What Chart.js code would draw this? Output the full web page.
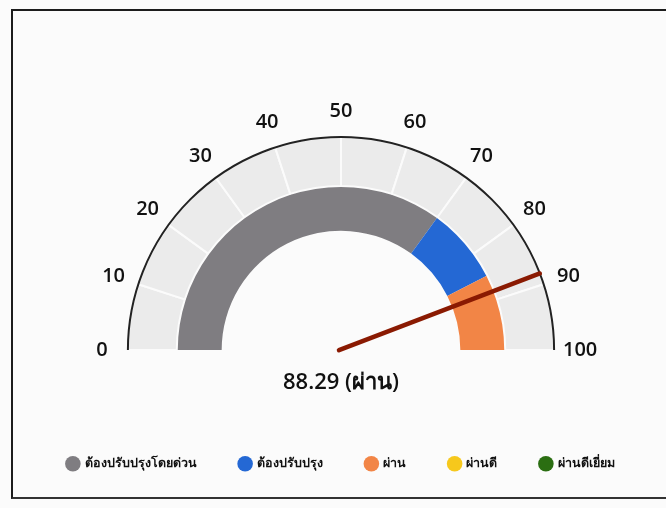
<!DOCTYPE html>
<html>
<head>
<meta charset="utf-8">
<script src="https://cdn.jsdelivr.net/npm/chart.js@4.4.1/dist/chart.umd.min.js"></script>
<style>
  html, body { margin: 0; padding: 0; background: #fbfbfb; }
  #wrap { position: relative; width: 666px; height: 508px; overflow: hidden; }
  #frame { position: absolute; left: 11px; top: 9px; width: 700px; height: 486px;
           border-left: 2px solid #1c1c1c; border-top: 2px solid #1c1c1c; border-bottom: 2px solid #333; }
  #gauge { position: absolute; left: 0; top: 0; }
</style>
</head>
<body>
<div id="wrap">
  <div id="frame"></div>
  <canvas id="gauge" width="666" height="508"></canvas>
</div>
<script>
// ตัวเลขรอบหน้าปัด
var tickLabels = [0, 10, 20, 30, 40, 50, 60, 70, 80, 90, 100];
// วงนอก (ช่องละ 10)
var outerSegments = [10, 10, 10, 10, 10, 10, 10, 10, 10, 10];
// ช่วงเกณฑ์
var bandLabels = ["ต้องปรับปรุงโดยด่วน", "ต้องปรับปรุง", "ผ่าน", "ผ่านดี", "ผ่านดีเยี่ยม"];
var bandValues = [70, 15, 15, 0, 0];
var bandColors = ["#7f7d81", "#2468d4", "#f28546", "#f6c81c", "#2b6e12"];
// ค่าเข็ม
var needleValue = 88.29;
var statusText = "ผ่าน";

var scaleMin = tickLabels[0];
var scaleMax = tickLabels[tickLabels.length - 1];

function valueToAngle(v) {
    return Math.PI + (v - scaleMin) / (scaleMax - scaleMin) * Math.PI;
}

// วาดเส้นขอบ ตัวเลข และเข็ม
var gaugeDecor = {
    id: 'gaugeDecor',
    afterDatasetsDraw: function (chart) {
        var arc = chart.getDatasetMeta(0).data[0];
        var cx = arc.x, cy = arc.y, r = arc.outerRadius;
        var ctx = chart.ctx;
        ctx.save();

        // เส้นขอบนอกสีดำ
        ctx.beginPath();
        ctx.arc(cx, cy, r, Math.PI, 2 * Math.PI);
        ctx.lineWidth = 2;
        ctx.strokeStyle = '#222';
        ctx.stroke();

        // ตัวเลข
        ctx.fillStyle = '#111';
        ctx.font = '600 20px "Open Sans", sans-serif';
        ctx.textAlign = 'center';
        ctx.textBaseline = 'middle';
        tickLabels.forEach(function (t) {
            var a = valueToAngle(t);
            ctx.fillText(String(t), cx + (r + 26) * Math.cos(a), cy + (r + 26) * Math.sin(a));
        });

        // เข็ม
        var na = valueToAngle(needleValue);
        ctx.beginPath();
        ctx.moveTo(cx - 2, cy);
        ctx.lineTo(cx + r * Math.cos(na), cy + r * Math.sin(na));
        ctx.lineWidth = 4.5;
        ctx.lineCap = 'round';
        ctx.strokeStyle = '#8a1a02';
        ctx.stroke();
        ctx.restore();
    }
};

var ctx = document.getElementById('gauge');
var gaugeChart = new Chart(ctx, {
    type: 'doughnut',
    data: {
        labels: bandLabels,
        datasets: [
            {
                data: outerSegments,
                backgroundColor: '#ebebeb',
                borderColor: '#fbfbfb',
                borderWidth: 2,
                weight: 49
            },
            {
                data: bandValues,
                backgroundColor: bandColors,
                borderWidth: 0,
                weight: 45
            }
        ]
    },
    options: {
        responsive: false,
        animation: false,
        rotation: -90,
        circumference: 180,
        cutout: '56%',
        layout: {
            padding: { top: 136, left: 16, right: 0, bottom: 28 }
        },
        plugins: {
            tooltip: { enabled: false },
            legend: {
                position: 'bottom',
                title: {
                    display: true,
                    text: needleValue.toFixed(2) + ' (' + statusText + ')',
                    color: '#111',
                    font: { family: '"Open Sans", "Noto Sans", sans-serif', size: 22, weight: '600' },
                    padding: { top: 21, bottom: 16 }
                },
                labels: {
                    usePointStyle: true,
                    pointStyle: 'circle',
                    boxWidth: 11,
                    boxHeight: 11,
                    padding: 43,
                    color: '#222',
                    font: { family: '"Noto Sans", sans-serif', size: 12.5, weight: 'bold' },
                    generateLabels: function () {
                        return bandLabels.map(function (l, i) {
                            return {
                                text: l,
                                fillStyle: bandColors[i],
                                strokeStyle: bandColors[i],
                                lineWidth: 0,
                                pointStyle: 'circle',
                                hidden: false,
                                index: i
                            };
                        });
                    }
                }
            }
        }
    },
    plugins: [gaugeDecor]
});
</script>
</body>
</html>
